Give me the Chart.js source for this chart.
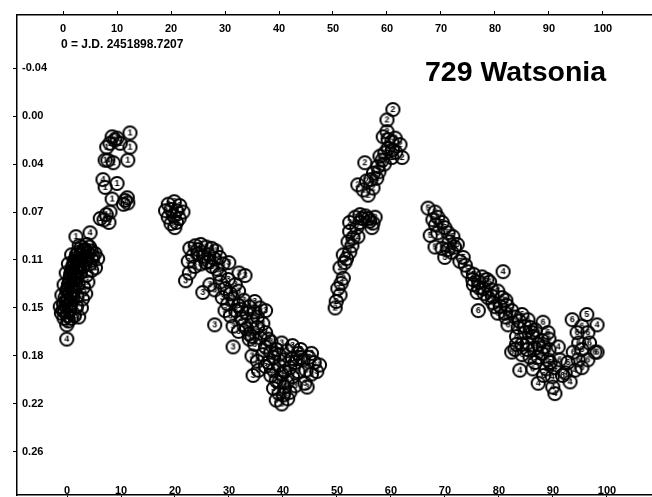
<!DOCTYPE html>
<html>
<head>
<meta charset="utf-8">
<script src="https://cdn.jsdelivr.net/npm/chart.js@4.4.1/dist/chart.umd.min.js"></script>
<style>
  html, body { margin: 0; padding: 0; background: #fff; overflow: hidden; }
  #wrap { position: relative; width: 672px; height: 497px; }
</style>
</head>
<body>
<div id="wrap"><canvas id="lc" width="672" height="497"></canvas></div>
<script>
    // Textos del gráfico
    const chartTitle = '729 Watsonia';
    const epochNote = '0 = J.D. 2451898.7207';

    // Marcas de los ejes (fase en %, magnitud relativa)
    const xTickValues = [0, 10, 20, 30, 40, 50, 60, 70, 80, 90, 100];
    const xTickLabels = ['0', '10', '20', '30', '40', '50', '60', '70', '80', '90', '100'];
    const yTickValues = [-0.037, 0, 0.037, 0.074, 0.111, 0.148, 0.185, 0.222, 0.259];
    const yTickLabels = ['-0.04', '0.00', '0.04', '0.07', '0.11', '0.15', '0.18', '0.22', '0.26'];

    // Sesiones: [fase, magnitud]
    const session1 = [
        [-0.3,0.152],[0.3,0.150],[0.8,0.154],[0.1,0.145],[0.6,0.147],[1.2,0.150],[0.4,0.140],[0.9,0.142],
        [1.5,0.145],[0.7,0.135],[1.2,0.137],[1.8,0.140],[1.0,0.130],[1.5,0.132],[2.0,0.134],[1.3,0.125],
        [1.8,0.127],[2.3,0.129],[1.6,0.120],[2.1,0.122],[2.6,0.124],[1.9,0.115],[2.4,0.117],[2.9,0.119],
        [2.3,0.110],[2.8,0.112],[3.3,0.114],[2.8,0.105],[3.3,0.107],[3.8,0.109],[4.4,0.111],[3.4,0.101],
        [4.0,0.103],[4.6,0.105],[5.2,0.104],[5.9,0.106],[6.4,0.110],[4.4,0.099],[0.7,0.161],[1.0,0.158],
        [2.1,0.154],[2.9,0.155],[2.4,0.093],
        [0.0,0.150],[0.5,0.143],[1.1,0.146],[0.9,0.133],[1.6,0.138],[1.2,0.128],[1.9,0.131],[1.4,0.122],
        [2.2,0.125],[1.7,0.117],[2.5,0.120],[2.1,0.112],[2.9,0.115],[2.5,0.107],[3.2,0.110],[3.0,0.100],
        [3.7,0.104],[4.9,0.101],[5.5,0.108],[0.2,0.156],[1.5,0.156],
        [-0.5,0.147],[2.5,0.147],[3.4,0.148],[-0.2,0.138],[2.6,0.139],[3.6,0.141],[4.2,0.137],
        [0.2,0.130],[2.8,0.130],[3.8,0.132],[4.6,0.128],[0.6,0.121],[3.2,0.121],[4.3,0.123],[5.3,0.119],
        [1.0,0.114],[3.8,0.116],[4.9,0.114],[6.0,0.117],[1.6,0.107],[4.3,0.108],[5.4,0.111],
        [6.9,0.079],[8.0,0.076],[8.7,0.074],[8.5,0.082],[7.6,0.080],[7.8,0.055],[10.0,0.052],[9.1,0.064],
        [11.5,0.065],[11.9,0.063],[12.0,0.067],[11.2,0.068],[9.1,0.016],[9.6,0.0185],[8.1,0.024],[8.7,0.021],
        [10.6,0.021],[10.0,0.017],[7.8,0.034],[9.3,0.036],[12.4,0.013],[12.4,0.024],[12.0,0.034]
    ];
    const session2 = [
        [50.4,0.148],[50.6,0.143],[51.3,0.138],[50.9,0.133],[51.9,0.125],[51.3,0.117],[52.2,0.113],[51.9,0.107],
        [53.1,0.105],[52.8,0.097],[53.7,0.094],[54.6,0.093],[53.1,0.089],[54.4,0.086],[53.1,0.082],[54.1,0.078],
        [55.4,0.079],[56.5,0.079],[57.8,0.078],[57.4,0.0825],[57.2,0.086],[55.0,0.082],[56.8,0.081],
        [51.5,0.129],[52.5,0.110],[53.5,0.100],[55.0,0.076],[56.0,0.077],
        [56.5,0.061],[54.6,0.053],[55.6,0.057],[57.4,0.0555],[56.2,0.050],[58.1,0.048],[57.5,0.044],[58.3,0.039],
        [59.1,0.034],[58.7,0.031],[59.6,0.0285],[60.2,0.025],[60.9,0.020],[59.3,0.016],[61.5,0.017],[62.4,0.022],
        [62.8,0.032],[60.9,0.032],[61.6,0.028],[55.9,0.036],[60.0,0.012],[60.0,0.003],[61.1,-0.005],
        [58.5,0.043],[59.5,0.037],[61.0,0.026],[60.2,0.018],[57.0,0.049]
    ];
    const session3 = [
        [19.5,0.068],[20.6,0.066],[21.6,0.069],[19.0,0.073],[20.0,0.072],[21.0,0.073],[22.2,0.074],[19.5,0.078],
        [20.5,0.077],[21.5,0.079],[20.0,0.083],[21.0,0.082],[20.7,0.086],
        [23.5,0.102],[24.5,0.100],[25.5,0.099],[26.5,0.101],[27.5,0.102],[28.3,0.104],[24.0,0.108],[25.0,0.106],
        [26.0,0.108],[27.0,0.107],[28.0,0.110],[29.0,0.109],[23.2,0.112],[22.7,0.127],[23.4,0.121],[24.4,0.116],
        [25.5,0.114],[26.5,0.113],[27.6,0.116],[28.5,0.118],[29.6,0.114],[30.7,0.113],[32.6,0.121],[25.9,0.136],
        [27.2,0.130],[28.1,0.134],[29.1,0.128],[30.6,0.126],[31.9,0.130],[33.7,0.123],
        [29.5,0.140],[30.5,0.145],[31.5,0.141],[32.5,0.146],[33.5,0.142],[34.5,0.147],[35.5,0.143],[36.5,0.148],
        [30.0,0.150],[31.0,0.154],[32.0,0.150],[33.0,0.156],[34.0,0.152],[35.0,0.158],[28.1,0.161],[31.5,0.162],
        [32.5,0.166],[33.5,0.161],[34.5,0.168],[31.5,0.178],[36.0,0.155],[37.0,0.160],[37.5,0.150],
        [34.5,0.172],[35.5,0.176],[36.5,0.171],[37.5,0.178],[38.5,0.174],[39.5,0.180],[40.5,0.175],[41.5,0.181],
        [42.5,0.177],[43.5,0.183],[35.0,0.185],[36.0,0.189],[37.0,0.184],[38.0,0.190],[39.0,0.186],[40.0,0.192],
        [41.0,0.188],[42.0,0.194],[43.0,0.190],[44.0,0.186],[36.2,0.196],[35.2,0.200],
        [38.5,0.200],[39.5,0.204],[40.5,0.199],[41.5,0.205],[42.5,0.201],[39.0,0.210],[40.0,0.214],[41.0,0.209],
        [42.0,0.213],[39.5,0.219],[40.5,0.222],[41.6,0.218],[43.0,0.208],
        [44.5,0.188],[45.5,0.186],[46.5,0.190],[47.5,0.192],[45.0,0.196],[46.0,0.199],[47.0,0.197],[44.8,0.206],
        [45.2,0.209],
        [25.0,0.103],[27.0,0.112],[29.0,0.122],[30.0,0.133],[31.0,0.137],[32.5,0.135],[33.0,0.149],[35.5,0.151],
        [36.0,0.163],[34.0,0.164],[35.0,0.170],[37.5,0.167],[38.5,0.182],[40.0,0.184],[39.0,0.196],[41.0,0.197],
        [42.5,0.187],[43.5,0.197],[37.5,0.193],[40.0,0.205],[38.0,0.172],[44.0,0.180],[46.0,0.183],[40.8,0.215]
    ];
    const session4 = [
        [0.7,0.172],[5.0,0.090],[7.4,0.049],[8.3,0.034],
        [81.5,0.120],[91.7,0.178],[84.6,0.196],[88.0,0.206],[98.9,0.161],
        [91.1,0.194],[90.6,0.201],[90.7,0.209],[91.1,0.214],[93.0,0.198],[93.9,0.205],[94.8,0.196]
    ];
    const session5 = [
        [67.6,0.071],[68.9,0.074],[69.4,0.078],[70.2,0.082],[68.5,0.080],[70.7,0.086],[68.0,0.092],[69.4,0.090],
        [71.3,0.090],[72.2,0.093],[73.0,0.099],[68.9,0.101],[70.2,0.102],[71.3,0.103],[70.7,0.109],[74.1,0.109],
        [75.0,0.120],[75.9,0.126],[76.7,0.136],[77.6,0.124],[78.5,0.126],[97.0,0.153],[72.0,0.105],[73.5,0.112],
        [76.0,0.130],[77.0,0.128],[79.0,0.128],[80.5,0.135],[78.0,0.137],[80.0,0.147],[81.0,0.147],
        [69.0,0.084],[71.5,0.097],[72.5,0.101],[74.5,0.115],[76.0,0.122],[77.0,0.132],[79.5,0.139],[82.0,0.142]
    ];
    const session6 = [
        [77.8,0.133],[79.4,0.134],[78.7,0.140],[76.9,0.150],[79.6,0.144],[81.3,0.140],[82.2,0.146],[83.1,0.150],
        [81.9,0.152],[83.7,0.155],[85.0,0.153],[86.1,0.157],[82.4,0.161],[84.3,0.163],[85.6,0.167],[86.9,0.167],
        [88.9,0.159],[89.8,0.167],[88.7,0.173],[83.7,0.180],[85.0,0.184],[83.1,0.182],[87.4,0.179],[88.7,0.183],
        [89.8,0.188],[87.4,0.190],[84.0,0.170],[86.0,0.175],[87.0,0.170],[85.0,0.176],[89.0,0.178],[90.0,0.180],
        [88.0,0.186],[86.5,0.186],[89.5,0.195],[90.2,0.190],
        [94.3,0.157],[96.1,0.162],[97.2,0.167],[96.1,0.180],[98.5,0.182],[97.2,0.188],[95.4,0.188],[96.1,0.194],
        [95.2,0.167],[98.9,0.182],
        [80.5,0.152],[82.0,0.155],[84.5,0.158],[85.5,0.162],[86.5,0.163],[87.5,0.165],[88.0,0.176],[86.0,0.180],
        [84.0,0.176],[87.0,0.195],[89.0,0.200],[90.0,0.172],[95.5,0.175],[97.5,0.175],[94.5,0.182],[93.5,0.190],
        [92.0,0.188],[92.5,0.200]
    ];

    // Símbolo: círculo con el número de sesión dentro
    function makeMarker(label) {
        const c = document.createElement('canvas');
        c.width = 17; c.height = 17;
        const g = c.getContext('2d');
        g.strokeStyle = '#000';
        g.lineWidth = 2;
        g.beginPath();
        g.arc(8.5, 8.5, 6.6, 0, Math.PI * 2);
        g.stroke();
        g.fillStyle = '#000';
        g.font = 'bold 9px "Liberation Sans", Arial, sans-serif';
        g.textAlign = 'center';
        g.textBaseline = 'middle';
        g.fillText(label, 8.5, 9);
        return c;
    }

    function toPoints(arr) {
        return arr.map(p => ({ x: p[0], y: p[1] }));
    }

    // Quitar el espacio que Chart.js reserva para los ejes (las etiquetas van dentro)
    function flatAxis(s) {
        if (s.isHorizontal()) s.height = 0; else s.width = 0;
        s.paddingTop = 0; s.paddingBottom = 0; s.paddingLeft = 0; s.paddingRight = 0;
    }

    const tickFont = { family: '"Liberation Sans", Arial, sans-serif', size: 11, weight: 'bold' };

    // Plugin para el título y la nota de época
    const notesPlugin = {
        id: 'notes',
        afterDraw(chart) {
            const ctx = chart.ctx;
            ctx.save();
            ctx.fillStyle = '#000';
            ctx.textAlign = 'left';
            ctx.textBaseline = 'alphabetic';
            ctx.font = 'bold 28.5px "Liberation Sans", Arial, sans-serif';
            ctx.fillText(chartTitle, 425, 81);
            ctx.font = 'bold 12px "Liberation Sans", Arial, sans-serif';
            ctx.fillText(epochNote, 61, 48);
            ctx.restore();
        }
    };

    const sessions = [
        ['1', session1], ['2', session2], ['3', session3],
        ['4', session4], ['5', session5], ['6', session6]
    ];

    new Chart(document.getElementById('lc'), {
        type: 'scatter',
        data: {
            datasets: sessions.map(([label, arr]) => ({
                label: label,
                data: toPoints(arr),
                pointStyle: makeMarker(label),
                pointRadius: 7,
                showLine: false,
                xAxisID: 'x',
                yAxisID: 'y'
            }))
        },
        options: {
            responsive: false,
            animation: false,
            layout: { autoPadding: false, padding: { left: 17, top: 15, right: 0, bottom: 2 } },
            plugins: {
                legend: { display: false },
                tooltip: { enabled: false }
            },
            scales: {
                x: {
                    type: 'linear',
                    position: 'top',
                    min: -8.52, max: 112.78,
                    afterBuildTicks: s => { s.ticks = xTickValues.map(v => ({ value: v })); },
                    afterFit: flatAxis,
                    ticks: {
                        mirror: true, padding: 7, color: '#000', font: tickFont,
                        maxRotation: 0, autoSkip: false,
                        callback: v => xTickLabels[xTickValues.indexOf(v)]
                    },
                    grid: { drawOnChartArea: false, drawTicks: true, tickLength: 4, color: '#000' },
                    border: { display: true, color: '#000', width: 1.5 }
                },
                x2: {
                    type: 'linear',
                    position: 'bottom',
                    min: -9.26, max: 112.04,
                    afterBuildTicks: s => { s.ticks = xTickValues.map(v => ({ value: v })); },
                    afterFit: flatAxis,
                    ticks: {
                        mirror: true, padding: -3, color: '#000', font: tickFont,
                        maxRotation: 0, autoSkip: false,
                        callback: v => xTickLabels[xTickValues.indexOf(v)]
                    },
                    grid: { drawOnChartArea: false, drawTicks: true, tickLength: 4, color: '#000' },
                    border: { display: true, color: '#000', width: 1.5 }
                },
                y: {
                    type: 'linear',
                    position: 'left',
                    reverse: true,
                    min: -0.0779, max: 0.2922,
                    afterBuildTicks: s => { s.ticks = yTickValues.map(v => ({ value: v })); },
                    afterFit: flatAxis,
                    ticks: {
                        mirror: true, padding: 5, color: '#000', font: tickFont,
                        autoSkip: false,
                        callback: v => yTickLabels[yTickValues.indexOf(v)]
                    },
                    grid: { drawOnChartArea: false, drawTicks: true, tickLength: 4, color: '#000' },
                    border: { display: true, color: '#000', width: 1.5 }
                },
                y2: {
                    type: 'linear',
                    position: 'right',
                    reverse: true,
                    min: -0.0740, max: 0.2961,
                    afterBuildTicks: s => { s.ticks = yTickValues.map(v => ({ value: v })); },
                    afterFit: flatAxis,
                    ticks: {
                        mirror: true, padding: 24, color: '#000', font: tickFont,
                        autoSkip: false,
                        callback: v => yTickLabels[yTickValues.indexOf(v)]
                    },
                    grid: { display: false },
                    border: { display: false }
                }
            }
        },
        plugins: [notesPlugin]
    });
</script>
</body>
</html>
